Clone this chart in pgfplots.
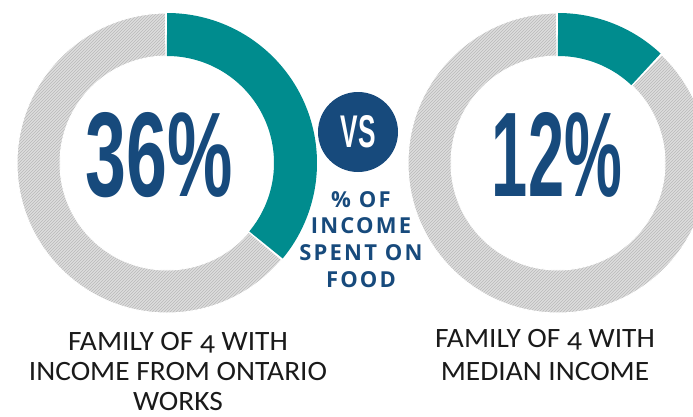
\documentclass[border=0pt]{standalone}
\usepackage{pgfplots}
\usepackage{pgfplotstable}
\pgfplotsset{compat=1.18}
\usetikzlibrary{patterns}
\usepackage{fontspec}
\setmainfont{Liberation Sans}
\newfontfamily\lblfont[Numbers=OldStyle]{Carlito}
\newfontfamily\midfont[LetterSpace=10]{Open Sans}
\definecolor{navy}{HTML}{174A7C}
\definecolor{tealc}{HTML}{008C8E}
\definecolor{ringgray}{HTML}{DDDDDD}
\definecolor{txt}{HTML}{1A1A1A}
\newcommand{\lbl}[1]{\scalebox{1.05}[1]{#1}}
\pgfplotstableread{
group pct cx
OW 36 167
Median 12 558
}\datatable
\pgfplotstablegetelem{0}{pct}\of\datatable \edef\pa{\pgfplotsretval}
\pgfplotstablegetelem{1}{pct}\of\datatable \edef\pb{\pgfplotsretval}
\begin{document}
\begin{tikzpicture}
\begin{axis}[
  scale only axis, width=693pt, height=416pt,
  xmin=0, xmax=693, ymin=0, ymax=416,
  hide axis, clip=true,
]
% background rings (remainder)
\path[fill=ringgray, even odd rule] (axis cs:167,253) circle[radius=150pt] (axis cs:167,253) circle[radius=107pt];
\path[pattern=north east lines, pattern color=gray!55, even odd rule] (axis cs:167,253) circle[radius=150pt] (axis cs:167,253) circle[radius=107pt];
\draw[white, line width=1pt] (axis cs:167,253) circle[radius=150pt] (axis cs:167,253) circle[radius=107pt];
\path[fill=ringgray, even odd rule] (axis cs:558,253) circle[radius=150pt] (axis cs:558,253) circle[radius=107pt];
\path[pattern=north east lines, pattern color=gray!55, even odd rule] (axis cs:558,253) circle[radius=150pt] (axis cs:558,253) circle[radius=107pt];
\draw[white, line width=1pt] (axis cs:558,253) circle[radius=150pt] (axis cs:558,253) circle[radius=107pt];
% value segments
\addplot[white, line width=45pt, domain={90.8:90-3.6*\pa-0.8}, samples=120, variable=\t] ({167+128.5*cos(\t)},{253+128.5*sin(\t)});
\addplot[tealc, line width=43pt, domain={90:90-3.6*\pa}, samples=120, variable=\t] ({167+128.5*cos(\t)},{253+128.5*sin(\t)});
\addplot[white, line width=45pt, domain={90.8:90-3.6*\pb-0.8}, samples=60, variable=\t] ({558+128.5*cos(\t)},{253+128.5*sin(\t)});
\addplot[tealc, line width=43pt, domain={90:90-3.6*\pb}, samples=60, variable=\t] ({558+128.5*cos(\t)},{253+128.5*sin(\t)});
% big numbers
\node[inner sep=0, text=navy] at (axis cs:159.5,261) {\resizebox{147pt}{84pt}{\bfseries 36\%}};
\node[inner sep=0, text=navy] at (axis cs:557,261) {\resizebox{130pt}{84pt}{\bfseries 12\%}};
% VS
\fill[navy] (axis cs:358,284) circle[radius=40pt];
\node[inner sep=0, text=white] at (axis cs:358,284) {\resizebox{35pt}{32pt}{\bfseries VS}};
% middle text
\node[anchor=base, inner sep=0, text=navy, font=\midfont\bfseries\fontsize{22}{26}\selectfont] at (axis cs:361,209) {\% OF};
\node[anchor=base, inner sep=0, text=navy, font=\midfont\bfseries\fontsize{22}{26}\selectfont] at (axis cs:361,183) {INCOME};
\node[anchor=base, inner sep=0, text=navy, font=\midfont\bfseries\fontsize{22}{26}\selectfont] at (axis cs:361,156) {SPENT ON};
\node[anchor=base, inner sep=0, text=navy, font=\midfont\bfseries\fontsize{22}{26}\selectfont] at (axis cs:361,129) {FOOD};
% bottom labels
\node[anchor=base, inner sep=0, text=txt, font=\lblfont\fontsize{28}{31}\selectfont] at (axis cs:178,66) {\lbl{FAMILY OF 4 WITH}};
\node[anchor=base, inner sep=0, text=txt, font=\lblfont\fontsize{28}{31}\selectfont] at (axis cs:178,35.5) {\lbl{INCOME FROM ONTARIO}};
\node[anchor=base, inner sep=0, text=txt, font=\lblfont\fontsize{28}{31}\selectfont] at (axis cs:178,6) {\lbl{WORKS}};
\node[anchor=base, inner sep=0, text=txt, font=\lblfont\fontsize{28}{31}\selectfont] at (axis cs:545,69) {\lbl{FAMILY OF 4 WITH}};
\node[anchor=base, inner sep=0, text=txt, font=\lblfont\fontsize{28}{31}\selectfont] at (axis cs:545,36) {\lbl{MEDIAN INCOME}};
\end{axis}
\pgfresetboundingbox
\path[use as bounding box] (current axis.south west) rectangle (current axis.north east);
\end{tikzpicture}
\end{document}
